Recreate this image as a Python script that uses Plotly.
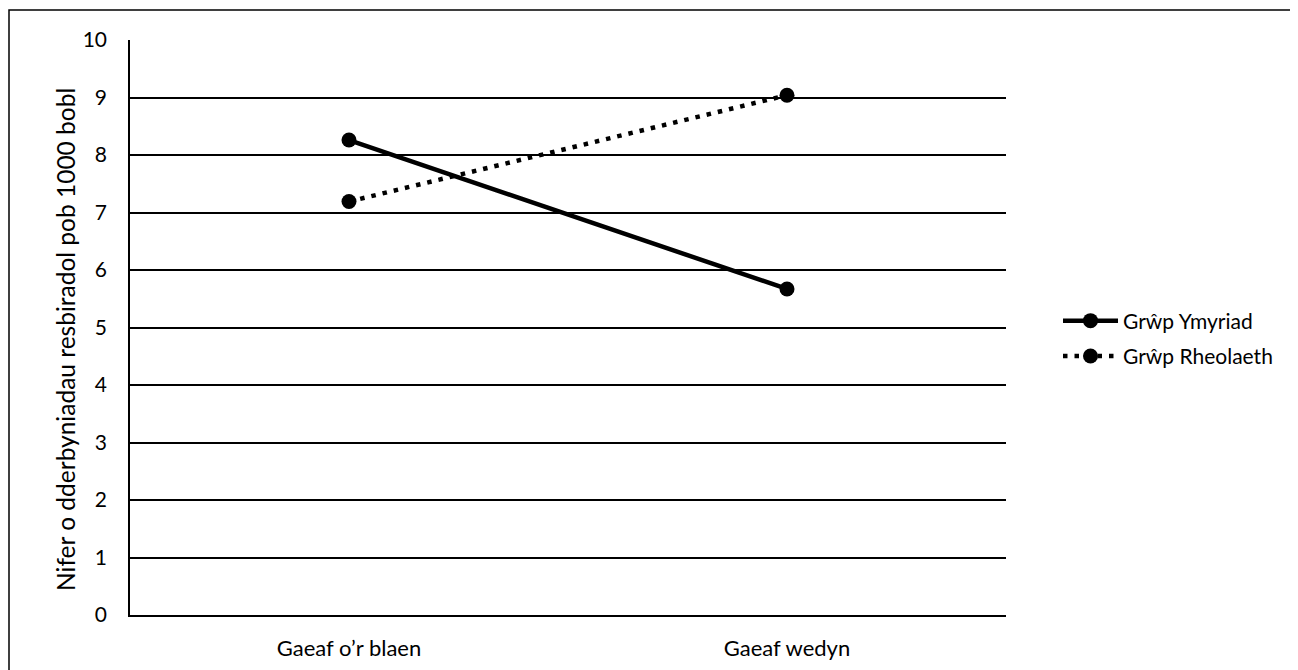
import plotly.graph_objects as go

categories = ["Gaeaf o’r blaen", "Gaeaf wedyn"]
ymyriad = [8.26, 5.67]
rheolaeth = [7.19, 9.04]
series_names = ["Grŵp Ymyriad", "Grŵp Rheolaeth"]
y_title = "Nifer o dderbyniadau resbiradol pob 1000 bobl"

# page has an 8px body margin; figure is sized so it fills the window
W, H = 1290, 662
L, T, R, B = 122, 32, 292, 55
pw, ph = W - L - R, H - T - B

fig = go.Figure()
fig.add_trace(go.Scatter(
    x=categories, y=ymyriad, name=series_names[0], mode="lines+markers",
    legendgroup="a",
    line=dict(color="black", width=4.5),
    marker=dict(color="black", size=15),
))
fig.add_trace(go.Scatter(
    x=categories, y=rheolaeth, name=series_names[1], mode="lines+markers",
    legendgroup="b",
    line=dict(color="black", width=4.5, dash="4.5px,7px"),
    marker=dict(color="black", size=15),
))

font_family = "Lato, Open Sans, sans-serif"
leg_x_px = 1058 - 8
leg_y_px = 338.5 - 8
title_x_px = 65 - 8
title_y_px = 340 - 8
fig.update_layout(
    width=W, height=H,
    margin=dict(l=L, r=R, t=T, b=B, autoexpand=False),
    paper_bgcolor="white", plot_bgcolor="white",
    font=dict(family=font_family, size=20, color="black"),
    showlegend=True,
    legend=dict(
        x=(leg_x_px - L) / pw, y=1 - (leg_y_px - T) / ph, xanchor="left", yanchor="middle",
        font=dict(size=21, color="black"), traceorder="grouped", tracegroupgap=5,
        itemwidth=55, bgcolor="rgba(0,0,0,0)",
    ),
    xaxis=dict(
        type="category", range=[-0.5, 1.5], showgrid=False,
        showline=True, linecolor="black", linewidth=1.5,
        ticks="", ticklabelstandoff=13, tickfont=dict(size=22),
        zeroline=False,
    ),
    yaxis=dict(
        range=[0, 10], dtick=1, tick0=0, showgrid=True, gridcolor="black", gridwidth=1.5,
        showline=True, linecolor="black", linewidth=1.5,
        ticks="", ticklabelstandoff=17, tickfont=dict(size=21),
        zeroline=False,
    ),
    annotations=[dict(
        text=y_title, textangle=-90, showarrow=False,
        xref="paper", yref="paper",
        x=(title_x_px - L) / pw, y=1 - (title_y_px - T) / ph,
        xanchor="center", yanchor="middle",
        font=dict(size=24.5, color="black"),
    )],
    shapes=[dict(
        type="rect", xref="paper", yref="paper",
        x0=(1 - L) / pw, x1=(W + 20 - L) / pw,
        y0=-(H + 20 - (T + ph)) / ph, y1=1 + (T - 2) / ph,
        line=dict(color="black", width=1.5), fillcolor="rgba(0,0,0,0)", layer="above",
    )],
)

fig.write_html("out.html")
